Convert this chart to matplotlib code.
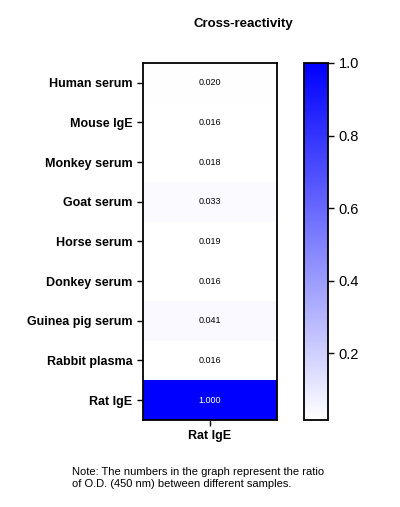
import matplotlib
matplotlib.use("Agg")
import matplotlib.pyplot as plt
from matplotlib.colors import LinearSegmentedColormap
import numpy as np

samples = ["Human serum", "Mouse IgE", "Monkey serum", "Goat serum", "Horse serum",
           "Donkey serum", "Guinea pig serum", "Rabbit plasma", "Rat IgE"]
ratios = [0.020, 0.016, 0.018, 0.033, 0.019, 0.016, 0.041, 0.016, 1.000]
column = ["Rat IgE"]

plt.rcParams["font.family"] = ["Liberation Sans", "DejaVu Sans"]
cmap = LinearSegmentedColormap.from_list("wb", ["#ffffff", "#0000ff"])

fig = plt.figure(figsize=(4.0, 5.07), dpi=100)
ax = fig.add_axes([143 / 400, 1 - 420 / 507, 134 / 400, 357 / 507])
cax = fig.add_axes([304 / 400, 1 - 420 / 507, 24 / 400, 357 / 507])

data = np.array(ratios).reshape(-1, 1)
im = ax.imshow(data, cmap=cmap, vmin=min(ratios), vmax=1.0, aspect="auto")
for i, v in enumerate(ratios):
    ax.text(0, i, f"{v:.3f}", ha="center", va="center", fontsize=6.5,
            color="white" if v > 0.5 else "black")

ax.set_yticks(range(len(samples)))
ax.set_yticklabels(samples, fontsize=9, fontweight="bold")
ax.set_xticks([0])
ax.set_xticklabels(column, fontsize=9, fontweight="bold")
ax.tick_params(axis="x", length=4, width=1)
ax.tick_params(axis="y", length=4, width=1)
for s in ax.spines.values():
    s.set_linewidth(1.3)
ax.set_title("Cross-reactivity", fontsize=9.5, fontweight="bold", pad=0,
             x=0.75, y=1.0 + 36 / 357)

cb = fig.colorbar(im, cax=cax, ticks=[0.2, 0.4, 0.6, 0.8, 1.0])
cb.ax.tick_params(labelsize=10.5, length=4, width=1)
cb.outline.set_linewidth(1.3)

fig.text(72 / 400, 1 - 478 / 507,
         "Note: The numbers in the graph represent the ratio\nof O.D. (450 nm) between different samples.",
         fontsize=8, va="center", ha="left", linespacing=1.35)

fig.savefig("out.png", dpi=100)
